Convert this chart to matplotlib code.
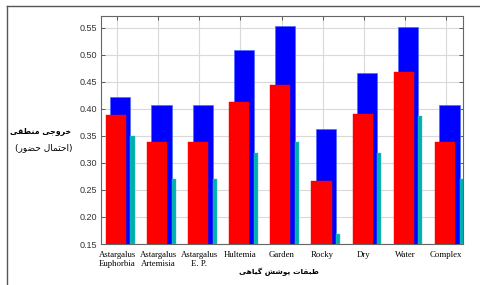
import numpy as np
import matplotlib
matplotlib.use("Agg")
import matplotlib.pyplot as plt
from matplotlib.lines import Line2D

# ----------------------------------------------------------------------------
# Data
# ----------------------------------------------------------------------------

CATEGORIES = ["Astargalus\nEuphorbia", "Astargalus\nArtemisia", "Astargalus\nE. P.",
              "Hultemia", "Garden", "Rocky", "Dry", "Water", "Complex"]
BLUE_VALUES = [0.423, 0.408, 0.408, 0.509, 0.554, 0.363, 0.467, 0.551, 0.407]
RED_VALUES = [0.388, 0.339, 0.339, 0.413, 0.444, 0.267, 0.391, 0.469, 0.339]
CYAN_VALUES = [0.350, 0.270, 0.270, 0.318, 0.338, 0.168, 0.318, 0.386, 0.270]
YTICKS = [0.15, 0.20, 0.25, 0.30, 0.35, 0.40, 0.45, 0.50, 0.55]

YLABEL_1 = "خروجی منطقی"
YLABEL_2 = "(احتمال حضور)"
XLABEL = "طبقات پوشش گیاهی"

BASE = 0.15

# ----------------------------------------------------------------------------
# Minimal Persian shaping (matplotlib has no RTL / joining support)
# forms: isolated, final, initial, medial
# ----------------------------------------------------------------------------

FORMS = {
    "ا": (0xFE8D, 0xFE8E, None, None),
    "ب": (0xFE8F, 0xFE90, 0xFE91, 0xFE92),
    "پ": (0xFB56, 0xFB57, 0xFB58, 0xFB59),
    "ت": (0xFE95, 0xFE96, 0xFE97, 0xFE98),
    "ج": (0xFE9D, 0xFE9E, 0xFE9F, 0xFEA0),
    "ح": (0xFEA1, 0xFEA2, 0xFEA3, 0xFEA4),
    "خ": (0xFEA5, 0xFEA6, 0xFEA7, 0xFEA8),
    "ر": (0xFEAD, 0xFEAE, None, None),
    "ش": (0xFEB5, 0xFEB6, 0xFEB7, 0xFEB8),
    "ض": (0xFEBD, 0xFEBE, 0xFEBF, 0xFEC0),
    "ط": (0xFEC1, 0xFEC2, 0xFEC3, 0xFEC4),
    "ق": (0xFED5, 0xFED6, 0xFED7, 0xFED8),
    "گ": (0xFB92, 0xFB93, 0xFB94, 0xFB95),
    "ل": (0xFEDD, 0xFEDE, 0xFEDF, 0xFEE0),
    "م": (0xFEE1, 0xFEE2, 0xFEE3, 0xFEE4),
    "ن": (0xFEE5, 0xFEE6, 0xFEE7, 0xFEE8),
    "ه": (0xFEE9, 0xFEEA, 0xFEEB, 0xFEEC),
    "و": (0xFEED, 0xFEEE, None, None),
    "ی": (0xFBFC, 0xFBFD, 0xFBFE, 0xFBFF),
}


def shape_fa(text):
    out = []
    for i, ch in enumerate(text):
        if ch not in FORMS:
            out.append(ch)
            continue
        prev = text[i - 1] if i > 0 else ""
        nxt = text[i + 1] if i + 1 < len(text) else ""
        iso, fin, ini, med = FORMS[ch]
        join_prev = prev in FORMS and FORMS[prev][2] is not None
        join_next = ini is not None and nxt in FORMS
        if join_prev and join_next:
            code = med
        elif join_prev:
            code = fin
        elif join_next:
            code = ini
        else:
            code = iso
        out.append(chr(code))
    s = "".join(reversed(out))
    return s.translate(str.maketrans("()", ")("))


# ----------------------------------------------------------------------------
# Plot
# ----------------------------------------------------------------------------

fig = plt.figure(figsize=(4.8, 2.85), dpi=100)
ax = fig.add_axes([101 / 480, 1 - 244 / 285, 362 / 480, 228 / 285])

x = np.arange(1, len(CATEGORIES) + 1)
blue_h = np.array(BLUE_VALUES) - BASE
red_h = np.array(RED_VALUES) - BASE
cyan_h = np.array(CYAN_VALUES) - BASE

ax.bar(x + 0.08, blue_h, width=0.49, bottom=BASE, color="#0000ff",
       edgecolor="#4d6bff", linewidth=0.5, zorder=2)
ax.bar(x - 0.03, red_h, width=0.49, bottom=BASE, color="#ff0000",
       edgecolor="#ff0000", linewidth=0.3, zorder=3)
ax.bar(x + 0.375, cyan_h, width=0.1, bottom=BASE, color="#00b0b0",
       edgecolor="#40c0c0", linewidth=0.3, zorder=3)

ax.set_xlim(0.61, 9.41)
ax.set_ylim(0.15, 0.572)
ax.set_xticks(x)
ax.set_xticklabels(CATEGORIES, fontsize=6.3, family="Liberation Serif", linespacing=1.15)
ax.set_yticks(YTICKS)
ax.set_yticklabels([f"{v:.2f}" for v in YTICKS], fontsize=6.5,
                   family="Liberation Sans", color="#333333")
ax.tick_params(axis="both", direction="in", length=3, width=0.6,
               top=True, right=True, color="#444444", pad=3)
ax.tick_params(axis="x", pad=5)
ax.grid(True, color="#d9d9d9", linewidth=0.8, zorder=0)
ax.set_axisbelow(True)
for sp in ax.spines.values():
    sp.set_color("#666666")
    sp.set_linewidth(0.8)

# Persian axis labels
fig.text(41 / 480, 1 - 131 / 285, shape_fa(YLABEL_1), ha="center", va="center",
         fontsize=5.6, fontweight="bold", family="DejaVu Sans")
fig.text(44 / 480, 1 - 148 / 285, shape_fa(YLABEL_2), ha="center", va="center",
         fontsize=6.5, family="DejaVu Sans")
fig.text(279 / 480, 1 - 272 / 285, shape_fa(XLABEL), ha="center", va="center",
         fontsize=5.4, fontweight="bold", family="DejaVu Sans")

# outer frame (top and left only)
fig.add_artist(Line2D([7 / 480, 1.0], [1 - 6 / 285, 1 - 6 / 285],
                      transform=fig.transFigure, color="#555555", linewidth=1))
fig.add_artist(Line2D([7 / 480, 7 / 480], [0, 1 - 6 / 285],
                      transform=fig.transFigure, color="#555555", linewidth=1))

fig.savefig("out.png", dpi=100)
